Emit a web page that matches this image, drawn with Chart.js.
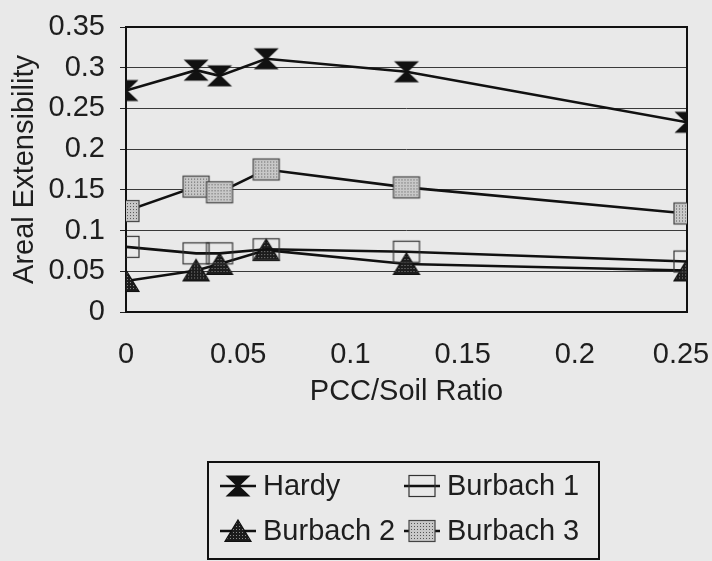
<!DOCTYPE html>
<html>
<head>
<meta charset="utf-8">
<script src="https://cdn.jsdelivr.net/npm/chart.js@4/dist/chart.umd.min.js"></script>
<style>
  html, body { margin: 0; padding: 0; background: #e9e9e9; }
  canvas { display: block; }
</style>
</head>
<body>
<canvas id="chart" width="712" height="561"></canvas>
<script>
// ── Data ───────────────────────────────────────────────────────────────────────
const ratios      = [0, 0.03125, 0.04167, 0.0625, 0.125, 0.25];
const hardy       = [0.272, 0.297, 0.290, 0.311, 0.295, 0.233];
const burbach1    = [0.080, 0.072, 0.072, 0.077, 0.074, 0.062];
const burbach2    = [0.038, 0.051, 0.059, 0.076, 0.059, 0.051];
const burbach3    = [0.124, 0.154, 0.147, 0.175, 0.153, 0.121];
const seriesNames = ['Hardy', 'Burbach 1', 'Burbach 2', 'Burbach 3'];
const xTickLabels = ['0', '0.05', '0.1', '0.15', '0.2', '0.25'];
const yTickLabels = ['0', '0.05', '0.1', '0.15', '0.2', '0.25', '0.3', '0.35'];

const FONT = '"Liberation Sans", Arial, sans-serif';
const INK  = '#1e1e1e';
const BG   = '#e9e9e9';

// ── Marker images ──────────────────────────────────────────────────────────────
function stipple(base, dot) {
  const p = document.createElement('canvas');
  p.width = 3; p.height = 3;
  const g = p.getContext('2d');
  g.fillStyle = base; g.fillRect(0, 0, 3, 3);
  g.fillStyle = dot;  g.fillRect(1, 1, 1, 1);
  return p;
}

function makeMarker(kind) {
  const c = document.createElement('canvas');
  c.width = 30; c.height = 26;
  const g = c.getContext('2d');
  g.translate(15, 13);
  g.lineWidth = 1.2;
  if (kind === 'hourglass') {
    g.beginPath();
    g.moveTo(-12.5, -10.5); g.lineTo(12.5, -10.5); g.lineTo(1.5, 0);
    g.lineTo(12.5, 10.5);   g.lineTo(-12.5, 10.5); g.lineTo(-1.5, 0);
    g.closePath();
    g.fillStyle = '#111'; g.fill();
  } else if (kind === 'open') {
    g.strokeStyle = '#333';
    g.strokeRect(-13, -10.5, 26, 21);
  } else if (kind === 'dotted') {
    g.fillStyle = g.createPattern(stipple('#c8c8c8', '#555'), 'repeat');
    g.fillRect(-13, -10.5, 26, 21);
    g.strokeStyle = '#444';
    g.strokeRect(-13, -10.5, 26, 21);
  } else if (kind === 'triangle') {
    g.beginPath();
    g.moveTo(0, -11); g.lineTo(13, 10.5); g.lineTo(-13, 10.5);
    g.closePath();
    g.fillStyle = g.createPattern(stipple('#1c1c1c', '#8a8a8a'), 'repeat');
    g.fill();
    g.strokeStyle = '#111'; g.stroke();
  }
  return c;
}

const markers = [makeMarker('hourglass'), makeMarker('open'), makeMarker('triangle'), makeMarker('dotted')];
const values  = [hardy, burbach1, burbach2, burbach3];

const datasets = seriesNames.map((name, i) => ({
  label: name,
  data: ratios.map((x, j) => ({ x, y: values[i][j] })),
  showLine: true,
  borderColor: '#111',
  borderWidth: 2.6,
  pointStyle: markers[i],
  pointRadius: 12,
  pointHoverRadius: 12,
  tension: 0,
}));

// ── Plugins ────────────────────────────────────────────────────────────────────
const backdrop = {
  id: 'backdrop',
  beforeDraw(chart) {
    const ctx = chart.ctx;
    ctx.save();
    ctx.fillStyle = BG;
    ctx.fillRect(0, 0, chart.width, chart.height);
    ctx.restore();
    // keep the last x label inside the canvas, as in the original
    const items = chart.scales.x.getLabelItems();
    const last = items[items.length - 1];
    if (last && !last._shifted) { last.options.translation[0] -= 6; last._shifted = true; }
  },
  beforeDatasetsDraw(chart) {
    const { ctx, chartArea: a } = chart;
    ctx.save();
    ctx.strokeStyle = '#111';
    ctx.lineWidth = 2;
    ctx.strokeRect(a.left, a.top, a.right - a.left, a.bottom - a.top);
    ctx.restore();
  },
};

const boxLegend = {
  id: 'boxLegend',
  afterDraw(chart) {
    const ctx = chart.ctx;
    ctx.save();
    ctx.strokeStyle = '#111';
    ctx.lineWidth = 2;
    ctx.strokeRect(208, 462, 391, 97);
    const colX = [238, 422];
    const rowY = [486, 531];
    ctx.font = '29px ' + FONT;
    ctx.textBaseline = 'middle';
    ctx.fillStyle = INK;
    chart.data.datasets.forEach((ds, i) => {
      const mx = colX[i % 2], my = rowY[Math.floor(i / 2)];
      ctx.strokeStyle = '#111';
      ctx.lineWidth = 2.6;
      ctx.beginPath(); ctx.moveTo(mx - 18, my); ctx.lineTo(mx + 18, my); ctx.stroke();
      const m = ds.pointStyle;
      ctx.drawImage(m, mx - m.width / 2, my - m.height / 2);
      ctx.fillText(ds.label, mx + 25, my + 1);
    });
    ctx.restore();
  },
};

const noPad = s => { s.paddingLeft = s.paddingRight = s.paddingTop = s.paddingBottom = 0; };

// ── Chart ──────────────────────────────────────────────────────────────────────
new Chart(document.getElementById('chart'), {
  type: 'scatter',
  data: { datasets },
  plugins: [backdrop, boxLegend],
  options: {
    responsive: false,
    animation: false,
    layout: { padding: { left: 0, top: 27, right: 25, bottom: 152 } },
    plugins: { legend: { display: false }, tooltip: { enabled: false } },
    scales: {
      x: {
        type: 'linear', min: 0, max: 0.25,
        afterFit: s => { s.height = 97; noPad(s); },
        afterBuildTicks: s => { s.ticks = xTickLabels.map(t => ({ value: parseFloat(t) })); },
        grid: { display: false, drawTicks: false },
        border: { display: false },
        ticks: {
          padding: 26, color: INK, font: { family: FONT, size: 29 },
          maxRotation: 0, autoSkip: false,
          callback: (v, i) => xTickLabels[i],
        },
        title: {
          display: true, text: 'PCC/Soil Ratio', color: INK,
          font: { family: FONT, size: 29 }, padding: { top: 0, bottom: 0 },
        },
      },
      y: {
        min: 0, max: 0.35,
        afterFit: s => { s.width = 126; noPad(s); },
        afterBuildTicks: s => { s.ticks = yTickLabels.map(t => ({ value: parseFloat(t) })); },
        grid: {
          color: '#3a3a3a', lineWidth: 1, borderDash: [2, 2],
          tickLength: 6, tickColor: '#222', tickBorderDash: [],
        },
        border: { display: false },
        ticks: {
          padding: 15, color: INK, font: { family: FONT, size: 29 },
          autoSkip: false,
          callback: (v, i) => yTickLabels[i],
        },
        title: {
          display: true, text: 'Areal Extensibility', color: INK,
          font: { family: FONT, size: 29 }, padding: { top: 8, bottom: 0 },
        },
      },
    },
  },
});
</script>
</body>
</html>
